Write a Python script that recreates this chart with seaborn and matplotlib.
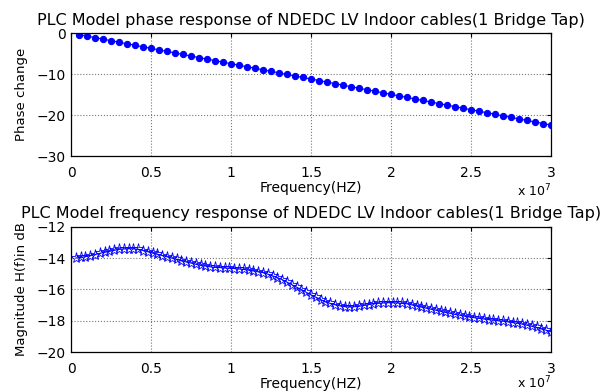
import numpy as np
import matplotlib
matplotlib.use("Agg")
import matplotlib.pyplot as plt
from matplotlib.ticker import FuncFormatter
import seaborn as sns

# Phase response (frequency in MHz)
freq_phase_mhz = [0.5, 1.0, 1.5, 2.0, 2.5, 3.0, 3.5, 4.0, 4.5, 5.0,
                  5.5, 6.0, 6.5, 7.0, 7.5, 8.0, 8.5, 9.0, 9.5, 10.0,
                  10.5, 11.0, 11.5, 12.0, 12.5, 13.0, 13.5, 14.0, 14.5, 15.0,
                  15.5, 16.0, 16.5, 17.0, 17.5, 18.0, 18.5, 19.0, 19.5, 20.0,
                  20.5, 21.0, 21.5, 22.0, 22.5, 23.0, 23.5, 24.0, 24.5, 25.0,
                  25.5, 26.0, 26.5, 27.0, 27.5, 28.0, 28.5, 29.0, 29.5, 30.0]
phase = [-0.37, -0.75, -1.12, -1.50, -1.87, -2.24, -2.62, -2.99, -3.37, -3.74,
         -4.11, -4.49, -4.86, -5.24, -5.61, -5.98, -6.36, -6.73, -7.11, -7.48,
         -7.85, -8.23, -8.60, -8.98, -9.35, -9.72, -10.10, -10.47, -10.85, -11.22,
         -11.59, -11.97, -12.34, -12.72, -13.09, -13.46, -13.84, -14.21, -14.59, -14.96,
         -15.33, -15.71, -16.08, -16.46, -16.83, -17.20, -17.58, -17.95, -18.33, -18.70,
         -19.07, -19.45, -19.82, -20.20, -20.57, -20.94, -21.32, -21.69, -22.07, -22.44]

# Magnitude response (frequency in MHz)
freq_mag_mhz = [0.3, 0.6, 0.9, 1.2, 1.5, 1.8, 2.1, 2.4, 2.7, 3.0,
                3.3, 3.6, 3.9, 4.2, 4.5, 4.8, 5.1, 5.4, 5.7, 6.0,
                6.3, 6.6, 6.9, 7.2, 7.5, 7.8, 8.1, 8.4, 8.7, 9.0,
                9.3, 9.6, 9.9, 10.2, 10.5, 10.8, 11.1, 11.4, 11.7, 12.0,
                12.3, 12.6, 12.9, 13.2, 13.5, 13.8, 14.1, 14.4, 14.7, 15.0,
                15.3, 15.6, 15.9, 16.2, 16.5, 16.8, 17.1, 17.4, 17.7, 18.0,
                18.3, 18.6, 18.9, 19.2, 19.5, 19.8, 20.1, 20.4, 20.7, 21.0,
                21.3, 21.6, 21.9, 22.2, 22.5, 22.8, 23.1, 23.4, 23.7, 24.0,
                24.3, 24.6, 24.9, 25.2, 25.5, 25.8, 26.1, 26.4, 26.7, 27.0,
                27.3, 27.6, 27.9, 28.2, 28.5, 28.8, 29.1, 29.4, 29.7, 30.0]
magnitude_db = [-14.00, -13.96, -13.91, -13.85, -13.78, -13.70, -13.63, -13.57, -13.51, -13.45,
                -13.42, -13.40, -13.41, -13.45, -13.52, -13.60, -13.68, -13.76, -13.84, -13.92,
                -14.00, -14.09, -14.17, -14.25, -14.32, -14.40, -14.47, -14.51, -14.56, -14.60,
                -14.61, -14.63, -14.65, -14.67, -14.70, -14.73, -14.77, -14.82, -14.88, -14.93,
                -15.03, -15.14, -15.25, -15.38, -15.54, -15.70, -15.86, -16.02, -16.19, -16.35,
                -16.50, -16.65, -16.80, -16.90, -16.98, -17.05, -17.10, -17.12, -17.11, -17.08,
                -17.03, -16.97, -16.92, -16.89, -16.87, -16.85, -16.85, -16.87, -16.90, -16.92,
                -16.99, -17.06, -17.13, -17.20, -17.27, -17.33, -17.40, -17.47, -17.53, -17.60,
                -17.65, -17.71, -17.76, -17.81, -17.85, -17.89, -17.93, -17.96, -18.00, -18.03,
                -18.07, -18.12, -18.16, -18.22, -18.29, -18.36, -18.43, -18.52, -18.61, -18.70]

x_ticks = [0, 0.5e7, 1e7, 1.5e7, 2e7, 2.5e7, 3e7]

sns.set_style("white", {'text.color': 'black', 'axes.labelcolor': 'black',
                        'xtick.color': 'black', 'ytick.color': 'black'})
plt.rcParams['font.family'] = ['DejaVu Sans']

fig = plt.figure(figsize=(6.06, 3.92), dpi=100)
ax1 = fig.add_axes([0.1172, 0.602, 0.792, 0.3138])
ax2 = fig.add_axes([0.1172, 0.102, 0.792, 0.3197])

sns.lineplot(x=np.array(freq_phase_mhz) * 1e6, y=phase, ax=ax1, color='blue',
             marker='o', markersize=4.5, markeredgecolor='blue', linewidth=0.8)
sns.lineplot(x=np.array(freq_mag_mhz) * 1e6, y=magnitude_db, ax=ax2, color='blue',
             marker='*', markersize=8, markerfacecolor='none', markeredgecolor='blue',
             markeredgewidth=0.6, linewidth=0.8)

fmt = FuncFormatter(lambda v, p: f"{v / 1e7:g}")
setup = [(ax1, (-30, 0), [0, -10, -20, -30], 'Phase change', -0.35,
          'PLC Model phase response of NDEDC LV Indoor cables(1 Bridge Tap)'),
         (ax2, (-20, -12), [-12, -14, -16, -18, -20], 'Magnitude H(f)in dB', -0.31,
          'PLC Model frequency response of NDEDC LV Indoor cables(1 Bridge Tap)')]
for ax, ylim, yticks, ylabel, exp_y, title in setup:
    ax.set_xlim(0, 3e7)
    ax.set_ylim(*ylim)
    ax.set_xticks(x_ticks)
    ax.set_yticks(yticks)
    ax.xaxis.set_major_formatter(fmt)
    ax.grid(True, linestyle=':', color='#777777', linewidth=0.8)
    ax.tick_params(direction='in', top=True, right=True, length=3, labelsize=10, pad=7)
    ax.tick_params(axis='y', pad=4)
    for s in ax.spines.values():
        s.set_color('black')
        s.set_linewidth(0.9)
    ax.set_xlabel('Frequency(HZ)', fontsize=10, labelpad=1)
    ax.set_ylabel(ylabel, fontsize=9.5, labelpad=6)
    ax.set_title(title, fontsize=11.5, pad=6)
    ax.text(1.0, exp_y, r'x 10$^{7}$', transform=ax.transAxes, ha='right',
            va='bottom', fontsize=9)

fig.savefig('out.png', dpi=100)
